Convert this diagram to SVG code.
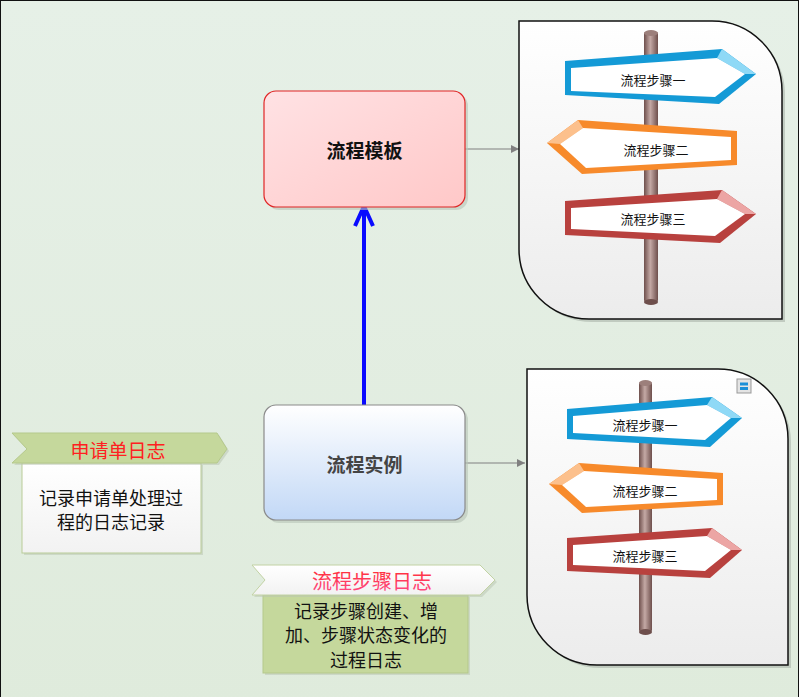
<svg xmlns="http://www.w3.org/2000/svg" width="800" height="697" viewBox="0 0 800 697">
<defs>
<linearGradient id="bg" x1="0" y1="0" x2="0" y2="1"><stop offset="0" stop-color="#e6f0e7"/><stop offset="1" stop-color="#dfebdc"/></linearGradient>
<linearGradient id="panelG" x1="0" y1="0" x2="0" y2="1"><stop offset="0" stop-color="#ffffff"/><stop offset="1" stop-color="#ececec"/></linearGradient>
<linearGradient id="poleG" x1="0" y1="0" x2="1" y2="0"><stop offset="0" stop-color="#6e4f4c"/><stop offset="0.45" stop-color="#c4a9a5"/><stop offset="1" stop-color="#6e4f4c"/></linearGradient>
<linearGradient id="pinkG" x1="0" y1="0" x2="1" y2="1"><stop offset="0" stop-color="#ffe2e4"/><stop offset="1" stop-color="#ffc8c8"/></linearGradient>
<linearGradient id="blueG" x1="0" y1="0" x2="0" y2="1"><stop offset="0" stop-color="#ffffff"/><stop offset="1" stop-color="#c2d8f6"/></linearGradient>
<linearGradient id="whiteG" x1="0" y1="0" x2="0" y2="1"><stop offset="0" stop-color="#ffffff"/><stop offset="1" stop-color="#f2f2f2"/></linearGradient>
<linearGradient id="redTxt" x1="0" y1="0" x2="0" y2="1"><stop offset="0" stop-color="#ff2a2a"/><stop offset="1" stop-color="#ff4a8a"/></linearGradient>
<marker id="grayArrow" viewBox="0 0 10 10" refX="10" refY="5" markerWidth="8" markerHeight="8" markerUnits="userSpaceOnUse" orient="auto"><path d="M0,0 L10,5 L0,10 Z" fill="#808080"/></marker>
</defs>
<style>
.cjk{font-family:"Noto Sans CJK SC","Noto Sans",sans-serif;text-anchor:middle;dominant-baseline:central}
.sign{font-size:13px;fill:#111}
.panel{fill:url(#panelG);stroke:#111;stroke-width:1.5}
.shadow{fill:#aab4aa;opacity:0.6}
.inner{fill:#ffffff}
.blue{fill:#149ad6}.blueB{fill:#8fd9f6}
.orange{fill:#f78a2b}.orangeB{fill:#fcc08c}
.red{fill:#b8413e}.redB{fill:#eca5a4}
.pole{fill:url(#poleG)}
.conn{stroke:#808080;stroke-width:1.2;fill:none}
</style>
<rect x="0.5" y="0.5" width="798" height="705" fill="url(#bg)" stroke="#111" stroke-width="1"/>

<g id="connectors">
<line class="conn" x1="465" y1="149" x2="519" y2="149" marker-end="url(#grayArrow)"/>
<line class="conn" x1="465" y1="463" x2="525" y2="463" marker-end="url(#grayArrow)"/>
<line x1="364" y1="405" x2="364" y2="208" stroke="#0a0aff" stroke-width="4"/>
<polyline points="355,226 364,206 373,226" fill="none" stroke="#0a0aff" stroke-width="4" stroke-linejoin="miter"/>
</g>

<g id="template-signpost">
<path class="shadow" d="M522,24 H715 A70,70 0 0 1 785,94 V322 H592 A70,70 0 0 1 522,252 Z"/>
<path class="panel" d="M519,21 H712 A70,70 0 0 1 782,91 V319 H589 A70,70 0 0 1 519,249 Z"/>
<rect class="pole" x="644" y="32" width="14" height="270" rx="2"/>
<ellipse cx="651" cy="33" rx="7" ry="3" fill="#9c7f7b"/>
<ellipse cx="651" cy="302" rx="7" ry="3" fill="#6e4f4c"/>
<polygon class="blue" points="565,61 722,49 756,74 719,104 565,95"/>
<polygon class="blueB" points="722,49 756,74 745,74 717,58"/>
<polygon class="inner" points="571,68 717,58 745,74 715,97 571,91"/>
<text class="cjk sign" x="653" y="79">流程步骤一</text>
<polygon class="orange" points="547,143 578,120 737,131 737,165 582,174"/>
<polygon class="orangeB" points="547,143 578,120 583,128 560,144"/>
<polygon class="inner" points="560,144 583,128 731,137 731,160 586,168"/>
<text class="cjk sign" x="656" y="149">流程步骤二</text>
<polygon class="red" points="565,201 722,190 756,214 720,243 565,235"/>
<polygon class="redB" points="722,190 756,214 745,214 717,199"/>
<polygon class="inner" points="571,208 717,199 745,214 715,236 571,229"/>
<text class="cjk sign" x="653" y="218">流程步骤三</text>
</g>

<g id="instance-signpost">
<path class="shadow" d="M530,372 H721 A70,70 0 0 1 791,442 V668 H600 A70,70 0 0 1 530,598 Z"/>
<path class="panel" d="M527,369 H718 A70,70 0 0 1 788,439 V665 H597 A70,70 0 0 1 527,595 Z"/>
<rect x="737" y="379" width="14" height="14" fill="#e4e4e4" stroke="#999" stroke-width="1"/>
<rect x="740" y="382.5" width="8" height="3" fill="#1a8fd8"/>
<rect x="740" y="387" width="8" height="3" fill="#1a8fd8"/>
<rect class="pole" x="639" y="382" width="13" height="250" rx="2"/>
<ellipse cx="645.5" cy="383" rx="6.5" ry="3" fill="#9c7f7b"/>
<ellipse cx="645.5" cy="632" rx="6.5" ry="3" fill="#6e4f4c"/>
<polygon class="blue" points="567,409 712,397 742,418 710,447 567,439"/>
<polygon class="blueB" points="712,397 742,418 731,418 707,405"/>
<polygon class="inner" points="573,416 707,405 731,418 705,440 573,433"/>
<text class="cjk sign" x="645" y="424">流程步骤一</text>
<polygon class="orange" points="549,484 579,463 723,473 723,505 582,513"/>
<polygon class="orangeB" points="549,484 579,463 584,471 562,485"/>
<polygon class="inner" points="562,485 584,471 717,479 717,500 586,507"/>
<text class="cjk sign" x="645" y="490">流程步骤二</text>
<polygon class="red" points="567,538 712,528 742,550 710,578 567,571"/>
<polygon class="redB" points="712,528 742,550 731,550 707,536"/>
<polygon class="inner" points="573,545 707,536 731,550 705,571 573,565"/>
<text class="cjk sign" x="645" y="555">流程步骤三</text>
</g>

<g id="node-template">
<rect x="267" y="94" width="201" height="116" rx="12" fill="#b8c4b8" opacity="0.6"/>
<rect x="264" y="91" width="201" height="116" rx="12" fill="url(#pinkG)" stroke="#e02525" stroke-width="1.2"/>
<text class="cjk" x="364.5" y="149" font-size="19" font-weight="bold" fill="#111">流程模板</text>
</g>

<g id="node-instance">
<rect x="267" y="408" width="201" height="115" rx="12" fill="#b8c4b8" opacity="0.6"/>
<rect x="264" y="405" width="201" height="115" rx="12" fill="url(#blueG)" stroke="#8a8a8a" stroke-width="1.2"/>
<text class="cjk" x="364.5" y="463" font-size="19" font-weight="bold" fill="#444">流程实例</text>
</g>

<g id="callout-request-log">
<rect x="24" y="465" width="179" height="90" fill="#b8c4b0" opacity="0.5"/>
<rect x="22" y="463" width="179" height="90" fill="url(#whiteG)" stroke="#b9cc98" stroke-width="1"/>
<polygon points="14,435 219,435 229,451 219,465 14,465 29,451" fill="#b8c4b0" opacity="0.5"/>
<polygon points="12,433 217,433 227,449 217,463 12,463 27,449" fill="#c5d89c" stroke="#b5c98c" stroke-width="1"/>
<text class="cjk" x="118" y="449" font-size="19" fill="#ff2020">申请单日志</text>
<text class="cjk" x="111" y="497" font-size="18" fill="#111">记录申请单处理过</text>
<text class="cjk" x="111" y="521" font-size="18" fill="#111">程的日志记录</text>
</g>

<g id="callout-step-log">
<rect x="265" y="597" width="205" height="78" fill="#b8c4b0" opacity="0.5"/>
<rect x="263" y="595" width="205" height="78" fill="#c5d89c" stroke="#b5c98c" stroke-width="1"/>
<polygon points="254,567 482,567 497,582 482,597 254,597 267,582" fill="#b8c4b0" opacity="0.5"/>
<polygon points="252,565 480,565 495,580 480,595 252,595 265,580" fill="url(#whiteG)" stroke="#c2d2a4" stroke-width="1"/>
<text class="cjk" x="372" y="580" font-size="20" fill="url(#redTxt)">流程步骤日志</text>
<text class="cjk" x="366" y="610" font-size="18" fill="#111">记录步骤创建、增</text>
<text class="cjk" x="366" y="634" font-size="18" fill="#111">加、步骤状态变化的</text>
<text class="cjk" x="366" y="659" font-size="18" fill="#111">过程日志</text>
</g>
</svg>
